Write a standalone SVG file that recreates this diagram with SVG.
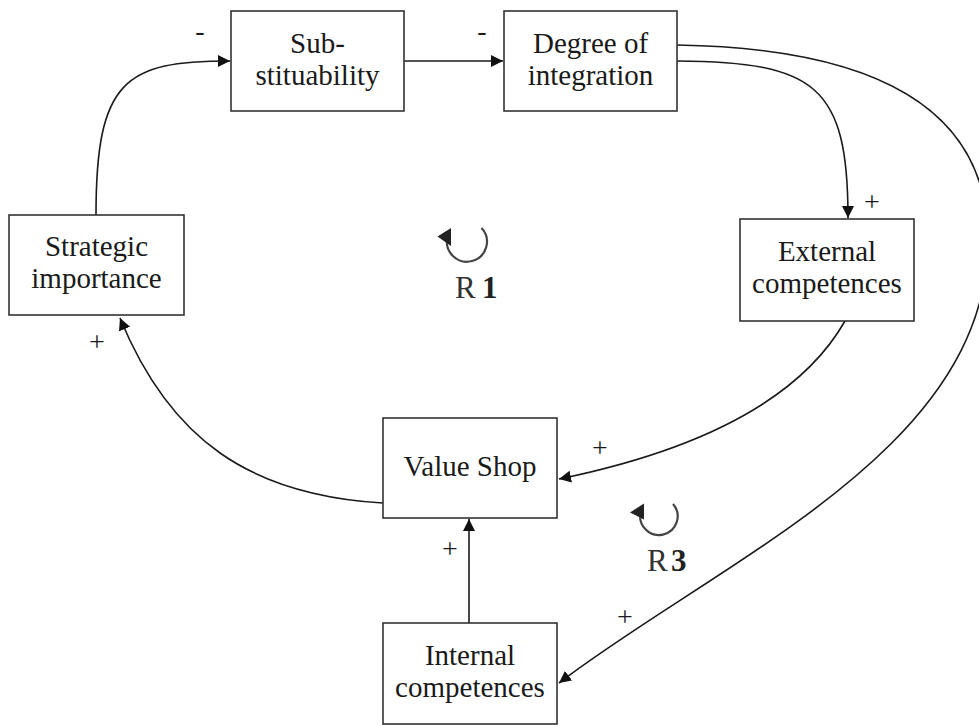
<svg xmlns="http://www.w3.org/2000/svg" width="979" height="725" viewBox="0 0 979 725">
  <defs>
    <style>
      .box { fill: #ffffff; stroke: #333333; stroke-width: 1.6; }
      .label { font-family: "Liberation Serif", "Times New Roman", serif; font-size: 29px; fill: #1a1a1a; text-anchor: middle; }
      .sign { font-family: "Liberation Serif", "Times New Roman", serif; font-size: 28px; fill: #1a1a1a; text-anchor: middle; }
      .loopname { font-family: "Liberation Serif", "Times New Roman", serif; font-size: 31px; fill: #333333; }
      .edge { fill: none; stroke: #1a1a1a; stroke-width: 1.6; marker-end: url(#arrow); }
      .loop { fill: none; stroke: #444444; stroke-width: 2.2; }
    </style>
    <marker id="arrow" markerUnits="userSpaceOnUse" markerWidth="13" markerHeight="13" refX="12" refY="6" orient="auto">
      <path d="M0,0 L12,6 L0,12 z" fill="#111111"/>
    </marker>
  </defs>

  <rect width="979" height="725" fill="#ffffff"/>

  <!-- connectors -->
  <g id="connectors">
    <path class="edge" d="M96,215 C96,80 125,61 230,61"/>
    <path class="edge" d="M404,61 L503,61"/>
    <path class="edge" d="M677,61 C815,62 848,85 848,218"/>
    <path class="edge" d="M677,45 C860,48 988,100 988,240 C988,450 720,560 559,683"/>
    <path class="edge" d="M845,321 C800,400 700,450 559,479"/>
    <path class="edge" d="M469,623 L469,519"/>
    <path class="edge" d="M383,503 C250,495 170,440 120,318"/>
  </g>

  <!-- polarity signs -->
  <g id="signs">
    <text class="sign" x="200" y="40">-</text>
    <text class="sign" x="482" y="40">-</text>
    <rect x="866" y="216" width="12" height="5" fill="#ffffff"/>
    <text class="sign" x="872" y="211">+</text>
    <text class="sign" x="97" y="351">+</text>
    <text class="sign" x="600" y="457">+</text>
    <text class="sign" x="450" y="558">+</text>
    <text class="sign" x="625" y="626">+</text>
  </g>

  <!-- nodes -->
  <g id="substituability">
    <rect class="box" x="231" y="11" width="173" height="100"/>
    <text class="label" x="317.5" y="53">Sub-</text>
    <text class="label" x="317.5" y="85">stituability</text>
  </g>
  <g id="degree-of-integration">
    <rect class="box" x="504" y="11" width="173" height="100"/>
    <text class="label" x="590.5" y="53">Degree of</text>
    <text class="label" x="590.5" y="85">integration</text>
  </g>
  <g id="strategic-importance">
    <rect class="box" x="9" y="215" width="175" height="100"/>
    <text class="label" x="96.5" y="256">Strategic</text>
    <text class="label" x="96.5" y="288">importance</text>
  </g>
  <g id="external-competences">
    <rect class="box" x="740" y="219" width="174" height="102"/>
    <text class="label" x="827" y="261">External</text>
    <text class="label" x="827" y="293">competences</text>
  </g>
  <g id="value-shop">
    <rect class="box" x="383" y="418" width="174" height="100"/>
    <text class="label" x="470" y="476">Value Shop</text>
  </g>
  <g id="internal-competences">
    <rect class="box" x="383" y="623" width="174" height="101"/>
    <text class="label" x="470" y="665">Internal</text>
    <text class="label" x="470" y="697">competences</text>
  </g>

  <!-- reinforcing loop markers -->
  <g id="loop-r1">
    <path class="loop" d="M481.5,228 A20,20 0 1 1 447.5,237"/>
    <polygon points="437.5,236.5 451,228 451,246" fill="#222222"/>
    <text class="loopname" x="455" y="298">R<tspan x="482" font-weight="bold" fill="#222222">1</tspan></text>
  </g>
  <g id="loop-r3">
    <path class="loop" d="M673,504 A18.7,18.7 0 1 1 641,511"/>
    <polygon points="630,512.5 644,503.5 644,519.5" fill="#222222"/>
    <text class="loopname" x="647" y="571">R<tspan x="671" font-weight="bold" fill="#222222">3</tspan></text>
  </g>
</svg>
